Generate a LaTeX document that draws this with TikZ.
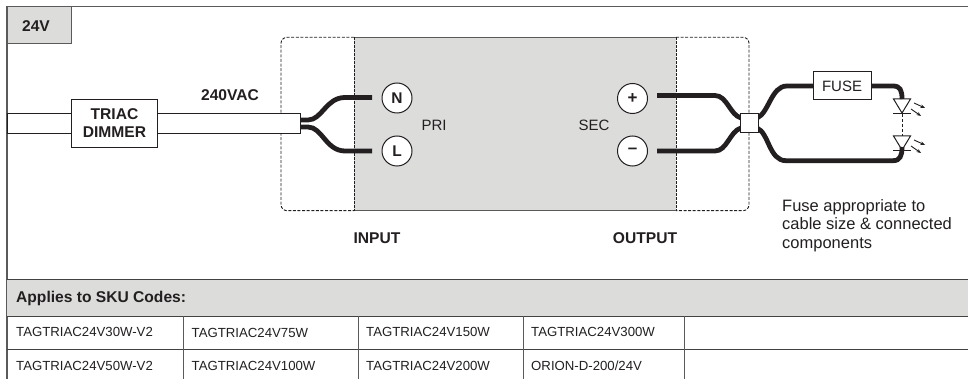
\documentclass[tikz,border=0pt]{standalone}
\usepackage{fontspec}
\setmainfont{Liberation Sans}
\usetikzlibrary{arrows.meta}
\definecolor{panel}{HTML}{DCDCDB}
\definecolor{ink}{HTML}{231F20}
\definecolor{rule}{HTML}{5A5A5A}
\tikzset{
 frameline/.style={draw=rule,line width=1.2pt},
 gridline/.style={draw=ink!85,line width=1pt},
 bx/.style={draw=ink,fill=white,line width=1pt,inner sep=0pt,align=center,text=ink},
 term/.style={circle,draw=ink,fill=white,line width=1pt,minimum size=30pt,inner sep=0pt,text=ink,font=\fontsize{15.5}{15.5}\bfseries},
 wire/.style={draw=ink,line width=4.8pt,line cap=butt},
 lbl/.style={font=\fontsize{15.6}{18}\bfseries,text=ink,inner sep=0pt},
 plain/.style={font=\fontsize{15}{18}\selectfont,text=ink,inner sep=0pt},
 sku/.style={font=\fontsize{13.2}{15}\selectfont,text=ink,inner sep=0pt,anchor=west},
 dashbox/.style={draw=ink,line width=0.9pt,dash pattern=on 3pt off 1.6pt},
 ray/.style={draw=ink,line width=0.9pt,-{Stealth[length=4.5pt,width=3.5pt]}}
}
\begin{document}
\begin{tikzpicture}[x=1pt,y=-1pt]
\useasboundingbox (0,0) rectangle (968,379);
% frame
\draw[frameline] (968,6.5) -- (7,6.5) -- (7,379);
\node[draw=rule,fill=panel,line width=1pt,minimum width=64pt,minimum height=36.5pt,inner sep=0pt,anchor=north west] (volt) at (7,6.5) {};
\node[lbl] (voltt) at (36,26) {24V};
% gray module and dashed box
\fill[panel] (354,37) rectangle (676,211);
\draw[dashbox] (354,37.3) -- (287,37.3) arc[start angle=270,end angle=180,radius=6] -- (281,204.7) arc[start angle=180,end angle=90,radius=6] -- (354,210.7);
\draw[dashbox] (676,37.3) -- (743,37.3) arc[start angle=270,end angle=360,radius=6] -- (749,204.7) arc[start angle=0,end angle=90,radius=6] -- (676,210.7);
\draw[frameline] (354,37.3) -- (676,37.3);
\draw[frameline] (354,210.7) -- (676,210.7);
\draw[draw=ink,line width=0.9pt,dash pattern=on 3pt off 1pt] (354,37) -- (354,210.7);
\draw[draw=ink,line width=0.9pt,dash pattern=on 3pt off 1pt] (676,37) -- (676,210.7);
% cable
\draw[draw=ink,line width=1pt,fill=white] (7,114) rectangle (300,133.5);
\node[bx,minimum width=86pt,minimum height=48pt,font=\fontsize{15.6}{18}\bfseries] (triac) at (114.5,123.5) {TRIAC\\DIMMER};
\node[lbl] (vac) at (230,95) {240VAC};
% terminals
\node[term] (N) at (397,98) {N};
\node[term] (L) at (397,151) {L};
\node[term,font=\fontsize{17}{17}\bfseries] (P) at (632.5,98.5) {+};
\node[term,font=\fontsize{17}{17}\bfseries] (M) at (632.5,151) {–};
\coordinate (cN) at (300,120);
\coordinate (cL) at (300,127);
\draw[wire] (cN) -- (308,120) .. controls (322,120) and (326,97.5) .. (345,97.5) -- (372,97.5);
\draw[wire] (cL) -- (308,127) .. controls (322,127) and (326,151) .. (345,151) -- (372,151);
\node[plain] (pri) at (434,125) {PRI};
\node[plain] (sec) at (594,125) {SEC};
\node[lbl] (inp) at (377,238) {INPUT};
\node[lbl] (out) at (645,238) {OUTPUT};
% LEDs
\coordinate (led1) at (902,99);
\coordinate (led2) at (902,136);
\foreach \c in {led1,led2}{
 \draw[draw=ink,fill=white,line width=1pt,line join=miter] ([xshift=-8.5pt]\c) -- ([xshift=8.5pt]\c) -- ([yshift=-14pt]\c) -- cycle;
 \draw[draw=ink,line width=1pt] ([xshift=-9pt,yshift=-14.5pt]\c) -- ([xshift=9pt,yshift=-14.5pt]\c);
 \draw[ray] ([xshift=12pt,yshift=-4pt]\c) -- ([xshift=23pt,yshift=-9pt]\c);
 \draw[ray] ([xshift=9pt,yshift=-10pt]\c) -- ([xshift=19pt,yshift=-17pt]\c);
}
\draw[draw=ink,line width=1pt,dash pattern=on 3pt off 2pt] (902,114) -- (led2);
% wires at the junction and the fuse
\draw[wire] (657,95.5) -- (715,95.5) .. controls (727,95.5) and (730,115) .. (741,118);
\draw[wire] (657,151) -- (715,151) .. controls (727,151) and (730,131) .. (741,128);
\coordinate (Fw) at (813,86);
\coordinate (Fe) at (871,86);
\draw[wire] (757,118) .. controls (769,113) and (771,86) .. (787,86) -- (Fw);
\draw[wire] (757,128) .. controls (769,133) and (769,160.7) .. (786,160.7) -- (893,160.7) .. controls (900,160.7) and (902,156) .. (902,147);
\draw[wire] (Fe) -- (893,86) .. controls (900,86) and (902,90) .. (902,99);
\node[bx,minimum width=18pt,minimum height=19pt] (J) at (749,123.5) {};
\node[bx,minimum width=58pt,minimum height=28pt,font=\fontsize{15}{18}\selectfont] (F) at (842,86) {FUSE};
\node[plain,align=left,anchor=north west,font=\fontsize{16.5}{18.5}\selectfont] (note) at (782,199) {Fuse appropriate to\\cable size \& connected\\components};
% table
\fill[panel] (7,279) rectangle (968,316);
\draw[gridline] (7,279) -- (968,279);
\draw[gridline] (7,316) -- (968,316);
\draw[gridline] (7,349) -- (968,349);
\foreach \x in {183,358,523,684}{\draw[gridline,draw=rule] (\x,316) -- (\x,379);}
\node[lbl,anchor=west] (hdr) at (16,298) {Applies to SKU Codes:};
\node[sku] (a1) at (16,331.5) {TAGTRIAC24V30W-V2};
\node[sku] (a2) at (16,365.5) {TAGTRIAC24V50W-V2};
\node[sku] (b1) at (191.5,332.5) {TAGTRIAC24V75W};
\node[sku] (b2) at (191.5,365.5) {TAGTRIAC24V100W};
\node[sku] (c1) at (366,332) {TAGTRIAC24V150W};
\node[sku] (c2) at (366,365.5) {TAGTRIAC24V200W};
\node[sku] (d1) at (531,332) {TAGTRIAC24V300W};
\node[sku] (d2) at (531,365.5) {ORION-D-200/24V};
\end{tikzpicture}
\end{document}
